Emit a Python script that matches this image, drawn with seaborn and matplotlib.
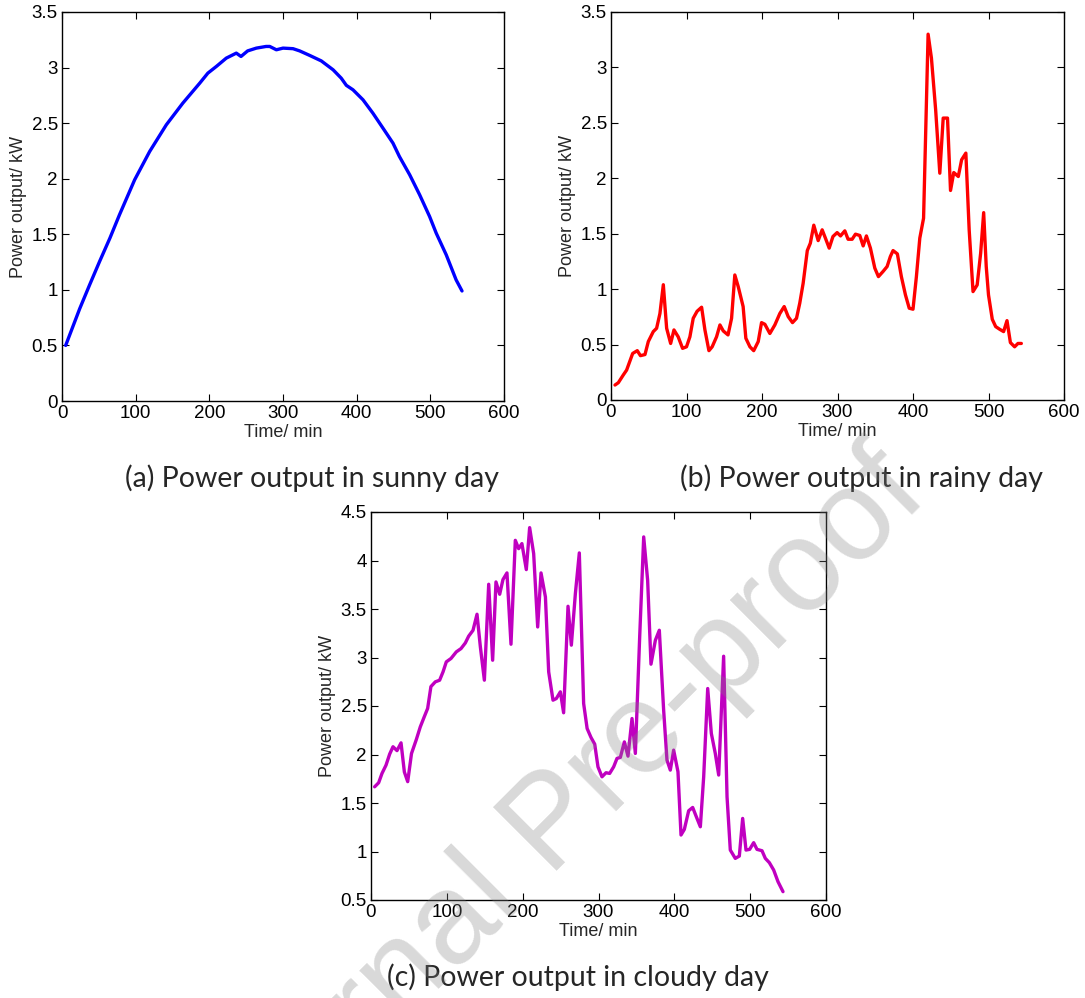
import matplotlib
matplotlib.use("Agg")
import matplotlib.pyplot as plt
from matplotlib.ticker import FuncFormatter
import pandas as pd
import seaborn as sns

# ---------------- data ----------------
sunny_t = [5, 24, 37.5, 51, 65, 78, 98.6, 119, 141.6, 164, 187, 198, 209.5, 223, 236.6,
           243, 252, 263.8, 277, 282, 291, 300, 313.6, 322.6, 336, 352, 368, 379, 386,
           395, 408.6, 422, 435.7, 449.3, 458, 472, 485.5, 499, 508, 521.6, 535, 543]
sunny_p = [0.50, 0.83, 1.045, 1.255, 1.465, 1.675, 1.99, 2.245, 2.485, 2.68, 2.86, 2.95,
           3.01, 3.085, 3.13, 3.10, 3.15, 3.175, 3.19, 3.19, 3.16, 3.175, 3.17, 3.15,
           3.11, 3.06, 2.98, 2.905, 2.84, 2.80, 2.71, 2.59, 2.455, 2.32, 2.20, 2.035,
           1.855, 1.66, 1.51, 1.315, 1.09, 0.99]

rainy_t = [5.3, 9.7, 16.3, 20.7, 28.7, 34.8, 39, 45, 49.4, 56, 60.4, 64.8, 69.3, 73.7, 79,
           83.4, 89, 94.8, 100, 104.5, 108.9, 114, 120, 124.4, 129.7, 134, 139.8, 144.3,
           148.7, 155, 159.7, 164, 168.5, 175, 178.6, 184, 189, 195, 199.4, 203.8, 210.4,
           217, 223.6, 229.4, 234.7, 240.4, 245.7, 250, 254.5, 260, 264, 268.6, 274.4,
           279.7, 284, 289, 294, 299.5, 304, 309.7, 314, 319.4, 323.8, 329.5, 334, 338.3,
           343.6, 349.4, 354.2, 360.4, 365.7, 370, 373.6, 379.3, 384.6, 390, 395, 400,
           404.5, 409, 414, 420, 424.4, 430, 435.5, 440, 445.7, 449.7, 454, 460, 464.4,
           470, 474.4, 479.5, 485, 489.6, 493.6, 497, 500, 505, 509.5, 514.8, 520, 524.5,
           529, 534.6, 539, 543.5]
rainy_p = [0.135, 0.156, 0.226, 0.27, 0.42, 0.445, 0.40, 0.41, 0.527, 0.617, 0.647, 0.78,
           1.04, 0.647, 0.51, 0.632, 0.57, 0.466, 0.48, 0.57, 0.737, 0.80, 0.837, 0.632,
           0.445, 0.48, 0.57, 0.677, 0.623, 0.587, 0.737, 1.128, 1.023, 0.843, 0.557,
           0.48, 0.445, 0.527, 0.698, 0.683, 0.60, 0.677, 0.78, 0.843, 0.752, 0.698,
           0.737, 0.873, 1.053, 1.348, 1.414, 1.577, 1.438, 1.535, 1.46, 1.37, 1.475,
           1.51, 1.48, 1.526, 1.45, 1.45, 1.496, 1.484, 1.39, 1.48, 1.37, 1.19, 1.113,
           1.16, 1.204, 1.294, 1.348, 1.318, 1.113, 0.948, 0.828, 0.819, 1.113, 1.46,
           1.64, 3.30, 3.085, 2.618, 2.046, 2.543, 2.543, 1.89, 2.052, 2.016, 2.167,
           2.227, 1.535, 0.978, 1.038, 1.324, 1.69, 1.204, 0.948, 0.728, 0.662, 0.638,
           0.617, 0.716, 0.518, 0.48, 0.51, 0.51]

cloudy_t = [4.8, 10.1, 14.5, 19.8, 24.6, 29, 34.3, 39.6, 44, 48.4, 53.4, 59.8, 65, 70.3,
            74.7, 79, 84.8, 90.5, 95, 99.3, 105.5, 112.5, 118.7, 124.4, 128.8, 134.5,
            139.8, 144.2, 149.5, 155.2, 160.4, 164.8, 169.7, 174, 179.3, 184.6, 190.3,
            194.7, 199, 204.8, 209.2, 214.5, 219.8, 224.2, 230, 234.3, 240, 244.4, 249.7,
            254, 259.8, 264.2, 269.5, 274.7, 280.4, 285, 290.1, 295, 299.3, 304.6, 309.9,
            314.7, 320, 324.4, 328.8, 334.1, 338.9, 344.2, 348.6, 354.3, 359.6, 364.8,
            369.2, 375, 380.2, 385.9, 390.3, 394.7, 399.1, 404.8, 408.8, 413.2, 418.9,
            424.2, 429, 434.3, 438.7, 444, 448.8, 454, 458.5, 465, 469.5, 473.8, 480.4,
            485.7, 490.1, 494.5, 499.3, 504.6, 509, 515.6, 520, 525.3, 531, 536.7, 543.3]
cloudy_p = [1.667, 1.709, 1.805, 1.89, 2.004, 2.08, 2.04, 2.12, 1.82, 1.72, 2.01, 2.155,
            2.285, 2.39, 2.475, 2.70, 2.749, 2.766, 2.852, 2.955, 2.99, 3.058, 3.092,
            3.15, 3.22, 3.28, 3.446, 3.11, 2.766, 3.755, 2.972, 3.779, 3.652, 3.803,
            3.872, 3.137, 4.208, 4.122, 4.174, 3.906, 4.339, 4.071, 3.315, 3.872, 3.624,
            2.852, 2.56, 2.577, 2.646, 2.43, 3.528, 3.127, 3.659, 4.078, 2.526, 2.268,
            2.176, 2.107, 1.873, 1.77, 1.812, 1.805, 1.873, 1.96, 1.97, 2.13, 1.983,
            2.371, 2.011, 3.212, 4.243, 3.796, 2.931, 3.178, 3.281, 2.457, 1.942, 1.839,
            2.045, 1.822, 1.17, 1.228, 1.42, 1.454, 1.358, 1.255, 1.77, 2.68, 2.217,
            2.011, 1.788, 3.013, 1.564, 1.015, 0.929, 0.953, 1.341, 1.015, 1.022, 1.091,
            1.022, 1.008, 0.929, 0.885, 0.809, 0.689, 0.586]

captions = ["(a) Power output in sunny day",
            "(b) Power output in rainy day",
            "(c) Power output in cloudy day"]
x_label = "Time/ min"
y_label = "Power output/ kW"
watermark = "Journal Pre-proof"

# ---------------- style ----------------
sns.set_style("ticks")
plt.rcParams['font.family'] = ['Liberation Sans', 'DejaVu Sans']
plt.rcParams['axes.edgecolor'] = 'black'

W, H = 1085, 998
fig = plt.figure(figsize=(W / 100, H / 100), dpi=100)
fig.patch.set_facecolor('white')


def make_axes(l, r, t, b):
    return fig.add_axes([l / W, 1 - b / H, (r - l) / W, (b - t) / H])


ax_a = make_axes(62, 504, 12, 401)
ax_b = make_axes(611, 1064, 12, 400)
ax_c = make_axes(371, 826, 512, 900)

fmt = FuncFormatter(lambda v, p: f"{v:g}")


def style(ax, ylim, ystep):
    ax.set_xlim(0, 600)
    ax.set_xticks(range(0, 601, 100))
    ax.set_ylim(*ylim)
    n = int(round((ylim[1] - ylim[0]) / ystep))
    ax.set_yticks([ylim[0] + i * ystep for i in range(n + 1)])
    ax.xaxis.set_major_formatter(fmt)
    ax.yaxis.set_major_formatter(fmt)
    ax.tick_params(direction='in', top=True, right=True, length=5, width=0.8,
                   labelsize=13.5, pad=3, colors='black')
    for s in ax.spines.values():
        s.set_visible(True)
        s.set_linewidth(1.0)
        s.set_color('black')
    ax.set_xlabel(x_label, fontsize=13, labelpad=1)
    ax.set_ylabel(y_label, fontsize=13, labelpad=3)
    ax.set_facecolor('white')


sns.lineplot(data=pd.DataFrame({"t": sunny_t, "p": sunny_p}), x="t", y="p",
             ax=ax_a, color="#0000ff", linewidth=2.4, sort=False)
sns.lineplot(data=pd.DataFrame({"t": rainy_t, "p": rainy_p}), x="t", y="p",
             ax=ax_b, color="#ff0000", linewidth=2.4, sort=False)
sns.lineplot(data=pd.DataFrame({"t": cloudy_t, "p": cloudy_p}), x="t", y="p",
             ax=ax_c, color="#c000c0", linewidth=2.4, sort=False)

style(ax_a, (0, 3.5), 0.5)
style(ax_b, (0, 3.5), 0.5)
style(ax_c, (0.5, 4.5), 0.5)

cap_font = ['Lato', 'DejaVu Sans']
fig.text(312 / W, 1 - 478 / H, captions[0], ha='center', va='center',
         fontsize=20.5, family=cap_font)
fig.text(861 / W, 1 - 478 / H, captions[1], ha='center', va='center',
         fontsize=20.5, family=cap_font)
fig.text(578 / W, 1 - 977 / H, captions[2], ha='center', va='center',
         fontsize=20.5, family=cap_font)

fig.text(578 / W, 1 - 850 / H, watermark, rotation=45, rotation_mode='anchor',
         ha='center', va='baseline', fontsize=93,
         color='#808080', alpha=0.3,
         family=['Liberation Sans', 'DejaVu Sans'], zorder=100)

fig.savefig("out.png", dpi=100, facecolor='white')
